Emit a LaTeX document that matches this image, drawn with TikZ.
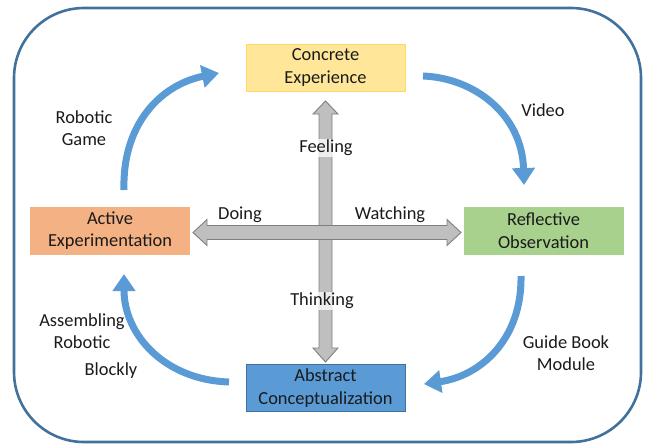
\documentclass[tikz,border=0pt]{standalone}
\usepackage{fontspec}
\setmainfont{Carlito}
\usetikzlibrary{arrows.meta}
\definecolor{frameblue}{HTML}{41719C}
\definecolor{cycblue}{HTML}{5B9BD5}
\definecolor{ceyellow}{HTML}{FFE699}
\definecolor{ceborder}{HTML}{FFD966}
\definecolor{rogreen}{HTML}{A9D18E}
\definecolor{aeorange}{HTML}{F4B183}
\definecolor{acblue}{HTML}{5B9BD5}
\definecolor{greyfill}{HTML}{BFBFBF}
\definecolor{greyline}{HTML}{7F7F7F}
\definecolor{txt}{HTML}{1A1A1A}
\tikzset{
  stagebox/.style={rectangle, minimum width=159pt, minimum height=47pt, inner sep=0pt,
    align=center, font=\fontsize{18.4}{22.5}\selectfont, text=txt, line width=0.8pt},
  lbl/.style={align=center, font=\fontsize{18.4}{22.5}\selectfont, text=txt, inner sep=0pt},
  onshaft/.style={fill=white, fill opacity=0.75, text opacity=1, inner xsep=0pt, inner ysep=1pt},
  cyc/.style={draw=cycblue, line width=7pt, -{Triangle[length=17pt,width=22pt]}},
  cross/.style={fill=greyfill, draw=greyline, line width=0.9pt, line join=miter}
}
\begin{document}
\begin{tikzpicture}[x=1pt,y=-1pt]
\useasboundingbox (0,0) rectangle (647,444);
% outer frame
\draw[frameblue, line width=2.6pt, rounded corners=70pt] (14,8) rectangle (641,442);

% stage boxes
\node[stagebox, fill=ceyellow, draw=ceborder] (ce) at (325.5,67.5) {Concrete\\Experience};
\node[stagebox, fill=rogreen, draw=rogreen] (ro) at (543.5,230.5) {Reflective\\Observation};
\node[stagebox, fill=aeorange, draw=aeorange] (ae) at (110,230.5) {Active\\Experimentation};
\node[stagebox, fill=acblue, draw=frameblue] (ac) at (325.5,388) {Abstract\\Conceptualization};

% grey cross arrows (horizontal drawn on top)
\draw[cross] (325.5,101) -- (338,114) -- (332,114) -- (332,348) -- (338,348) -- (325.5,362)
  -- (313,348) -- (319,348) -- (319,114) -- (313,114) -- cycle;
\draw[cross] (193,232.5) -- (207,219.5) -- (207,225.5) -- (447,225.5) -- (447,219.5) -- (461,232.5)
  -- (447,245.5) -- (447,239.5) -- (207,239.5) -- (207,245.5) -- cycle;

% cycle arrow endpoints
\coordinate (a1s) at (124,190);
\coordinate (a1e) at (219,73);
\coordinate (a2s) at (423,76);
\coordinate (a2e) at (524,185);
\coordinate (a3s) at (521,276);
\coordinate (a3e) at (424,384);
\coordinate (a4s) at (229,382);
\coordinate (a4e) at (124,274);

\draw[cyc] (a1s) .. controls (122,125) and (160,85) .. (a1e);
\draw[cyc] (a2s) .. controls (475,78) and (522,115) .. (a2e);
\draw[cyc] (a3s) .. controls (522,340) and (480,376) .. (a3e);
\draw[cyc] (a4s) .. controls (165,380) and (124,335) .. (a4e);

% labels
\node[lbl] (lrg) at (84,128) {Robotic\\Game};
\node[lbl] (lvid) at (543,110) {Video};
\node[lbl, onshaft] (lfeel) at (326,148) {Feeling};
\node[lbl] (ldo) at (240,215) {Doing};
\node[lbl] (lwat) at (390,215) {Watching};
\node[lbl, onshaft] (lthink) at (322,301) {Thinking};
\node[lbl] (lasm) at (82,331) {Assembling\\Robotic};
\node[lbl] (lblk) at (111,371) {Blockly};
\node[lbl] (lgbm) at (566,353) {Guide Book\\Module};
\end{tikzpicture}
\end{document}
